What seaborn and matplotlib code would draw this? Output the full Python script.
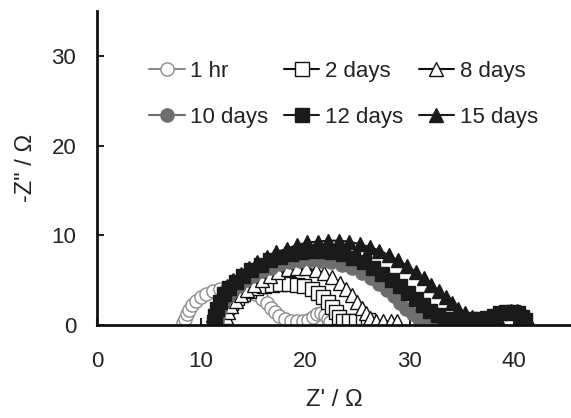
import numpy as np
import pandas as pd
import matplotlib
matplotlib.use("Agg")
import matplotlib.pyplot as plt
import seaborn as sns

# ---- data ----
labels = ["1 hr", "2 days", "8 days", "10 days", "12 days", "15 days"]

z_1hr = [8.3, 8.4, 8.6, 8.8, 9.1, 9.5, 10.0, 10.5, 11.1, 11.8, 12.5, 13.2, 13.9, 14.6, 15.2,
         15.8, 16.3, 16.7, 17.1, 17.5, 18.0, 18.6, 19.2, 19.8, 20.3, 20.7, 21.1, 21.5, 21.9, 22.2, 22.4]
y_1hr = [0.2, 0.7, 1.2, 1.7, 2.2, 2.7, 3.1, 3.5, 3.8, 4.0, 4.1, 4.1, 4.0, 3.7, 3.4,
         2.9, 2.4, 1.9, 1.4, 1.0, 0.7, 0.5, 0.4, 0.4, 0.6, 0.9, 1.2, 1.3, 1.1, 0.7, 0.3]

z_2d = [11.9, 12.0, 12.2, 12.5, 12.9, 13.4, 14.0, 14.6, 15.3, 16.0, 16.8, 17.6, 18.4, 19.2,
        19.9, 20.6, 21.2, 21.7, 22.2, 22.6, 22.9, 23.2, 23.6, 24.2, 24.9, 25.5, 26.0]
y_2d = [0.3, 0.9, 1.5, 2.0, 2.5, 3.0, 3.4, 3.8, 4.1, 4.3, 4.5, 4.6, 4.6, 4.5,
        4.3, 4.0, 3.6, 3.1, 2.6, 2.0, 1.4, 0.9, 0.5, 0.4, 0.4, 0.5, 0.6]

z_8d = [12.3, 12.4, 12.6, 12.9, 13.3, 13.8, 14.4, 15.1, 15.8, 16.6, 17.4, 18.3, 19.2, 20.1,
        21.0, 21.8, 22.6, 23.3, 23.9, 24.5, 25.0, 25.4, 25.8, 26.2, 26.8, 27.5, 28.2, 28.8]
y_8d = [0.3, 0.9, 1.5, 2.1, 2.7, 3.3, 3.9, 4.5, 5.0, 5.5, 5.9, 6.2, 6.3, 6.3,
        6.1, 5.8, 5.3, 4.7, 4.0, 3.3, 2.6, 1.9, 1.3, 0.8, 0.5, 0.4, 0.4, 0.5]

z_10d = [11.5, 11.6, 11.8, 12.1, 12.5, 13.0, 13.6, 14.3, 15.0, 15.8, 16.7, 17.6, 18.5, 19.5,
         20.5, 21.5, 22.5, 23.5, 24.5, 25.4, 26.3, 27.1, 27.8, 28.5, 29.1, 29.7, 30.3, 30.9,
         31.6, 32.4, 33.2, 34.0]
y_10d = [0.3, 1.0, 1.7, 2.4, 3.1, 3.8, 4.4, 5.0, 5.5, 6.0, 6.4, 6.8, 7.0, 7.1,
         7.2, 7.1, 7.0, 6.7, 6.3, 5.8, 5.2, 4.6, 3.9, 3.2, 2.5, 1.8, 1.2, 0.7,
         0.4, 0.3, 0.3, 0.4]

z_12d = [11.2, 11.3, 11.5, 11.8, 12.2, 12.7, 13.3, 14.0, 14.8, 15.7, 16.6, 17.6, 18.6, 19.6,
         20.6, 21.6, 22.6, 23.6, 24.6, 25.6, 26.5, 27.4, 28.3, 29.1, 29.9, 30.6, 31.3, 32.0,
         32.7, 33.4, 34.2, 35.0, 35.8, 36.6, 37.4, 38.1, 38.7, 39.3, 39.9, 40.4, 40.8, 41.1]
y_12d = [0.3, 1.0, 1.8, 2.6, 3.4, 4.1, 4.8, 5.5, 6.1, 6.7, 7.2, 7.6, 7.9, 8.1,
         8.2, 8.2, 8.1, 7.9, 7.5, 7.0, 6.4, 5.7, 5.0, 4.3, 3.6, 2.9, 2.2, 1.6,
         1.1, 0.7, 0.6, 0.6, 0.7, 0.7, 0.8, 1.0, 1.3, 1.5, 1.5, 1.3, 0.9, 0.6]

z_15d = [11.0, 11.1, 11.3, 11.6, 12.0, 12.5, 13.1, 13.8, 14.6, 15.4, 16.3, 17.2, 18.2, 19.2,
         20.2, 21.2, 22.2, 23.2, 24.2, 25.2, 26.2, 27.1, 28.0, 28.9, 29.8, 30.6, 31.4, 32.1,
         32.8, 33.5, 34.1, 34.7, 35.3, 36.0, 36.8, 37.6, 38.4, 39.1, 39.7, 40.3, 40.8, 41.2, 41.4]
y_15d = [0.3, 1.1, 1.9, 2.7, 3.5, 4.3, 5.0, 5.7, 6.4, 7.0, 7.6, 8.1, 8.5, 8.9,
         9.2, 9.3, 9.4, 9.4, 9.3, 9.0, 8.7, 8.3, 7.8, 7.2, 6.6, 5.9, 5.2, 4.5,
         3.8, 3.1, 2.4, 1.8, 1.3, 0.9, 0.7, 0.7, 0.9, 1.3, 1.6, 1.6, 1.3, 0.9, 0.6]

x_ticks = [0, 10, 20, 30, 40]
y_ticks = [0, 10, 20, 30]

series_x = [z_1hr, z_2d, z_8d, z_10d, z_12d, z_15d]
series_y = [y_1hr, y_2d, y_8d, y_10d, y_12d, y_15d]

frames = []
for lab, xs, ys in zip(labels, series_x, series_y):
    frames.append(pd.DataFrame({"Zre": xs, "Zim": ys, "series": lab, "idx": range(len(xs))}))
df = pd.concat(frames, ignore_index=True)

# ---- style ----
sns.set_style("ticks")
plt.rcParams["font.family"] = ["Liberation Sans", "DejaVu Sans"]

styles = {
    "1 hr":    dict(marker="o", mfc="white",   mec="#8c8c8c", color="#8c8c8c", ms=9.5),
    "2 days":  dict(marker="s", mfc="white",   mec="#111111", color="#111111", ms=9.5),
    "8 days":  dict(marker="^", mfc="white",   mec="#111111", color="#111111", ms=10.5),
    "10 days": dict(marker="o", mfc="#6e6e6e", mec="#6e6e6e", color="#6e6e6e", ms=9.5),
    "12 days": dict(marker="s", mfc="#1a1a1a", mec="#1a1a1a", color="#1a1a1a", ms=9.5),
    "15 days": dict(marker="^", mfc="#1a1a1a", mec="#1a1a1a", color="#1a1a1a", ms=10.5),
}

fig = plt.figure(figsize=(5.71, 4.18), dpi=100)
ax = fig.add_axes([97 / 571, 93 / 418, 474 / 571, 314 / 418])

for lab in labels:
    st = styles[lab]
    sub = df[df["series"] == lab]
    sns.lineplot(data=sub, x="Zre", y="Zim", sort=False, estimator=None, ax=ax,
                 color=st["color"], marker=st["marker"], markersize=st["ms"],
                 markerfacecolor=st["mfc"], markeredgecolor=st["mec"],
                 markeredgewidth=1.0, linewidth=1.5, label=lab)

ax.set_xlim(0, 45.5)
ax.set_ylim(0, 35)
ax.set_xticks(x_ticks)
ax.set_yticks(y_ticks)
ax.tick_params(axis="both", direction="in", length=5, width=1.5, labelsize=16,
               colors="#222222")
ax.tick_params(axis="x", pad=19)
ax.tick_params(axis="y", pad=15)
for s in ["top", "right"]:
    ax.spines[s].set_visible(False)
for s in ["left", "bottom"]:
    ax.spines[s].set_linewidth(2)
    ax.spines[s].set_color("#111111")

ax.set_xlabel("Z' / \u03a9", fontsize=17, labelpad=12, color="#222222")
ax.set_ylabel('-Z" / \u03a9', fontsize=17, labelpad=10, color="#222222")

handles, labs = ax.get_legend_handles_labels()
order = [0, 3, 1, 4, 2, 5]
leg = ax.legend([handles[i] for i in order], [labs[i] for i in order], ncol=3,
                frameon=False, fontsize=16, loc="upper left",
                bbox_to_anchor=(138 / 571, 1 - 50 / 418), bbox_transform=fig.transFigure,
                borderpad=0, handlelength=1.6, handletextpad=0.25, columnspacing=0.7,
                labelspacing=1.1)
for t in leg.get_texts():
    t.set_color("#222222")

fig.savefig("out.png", dpi=100)
